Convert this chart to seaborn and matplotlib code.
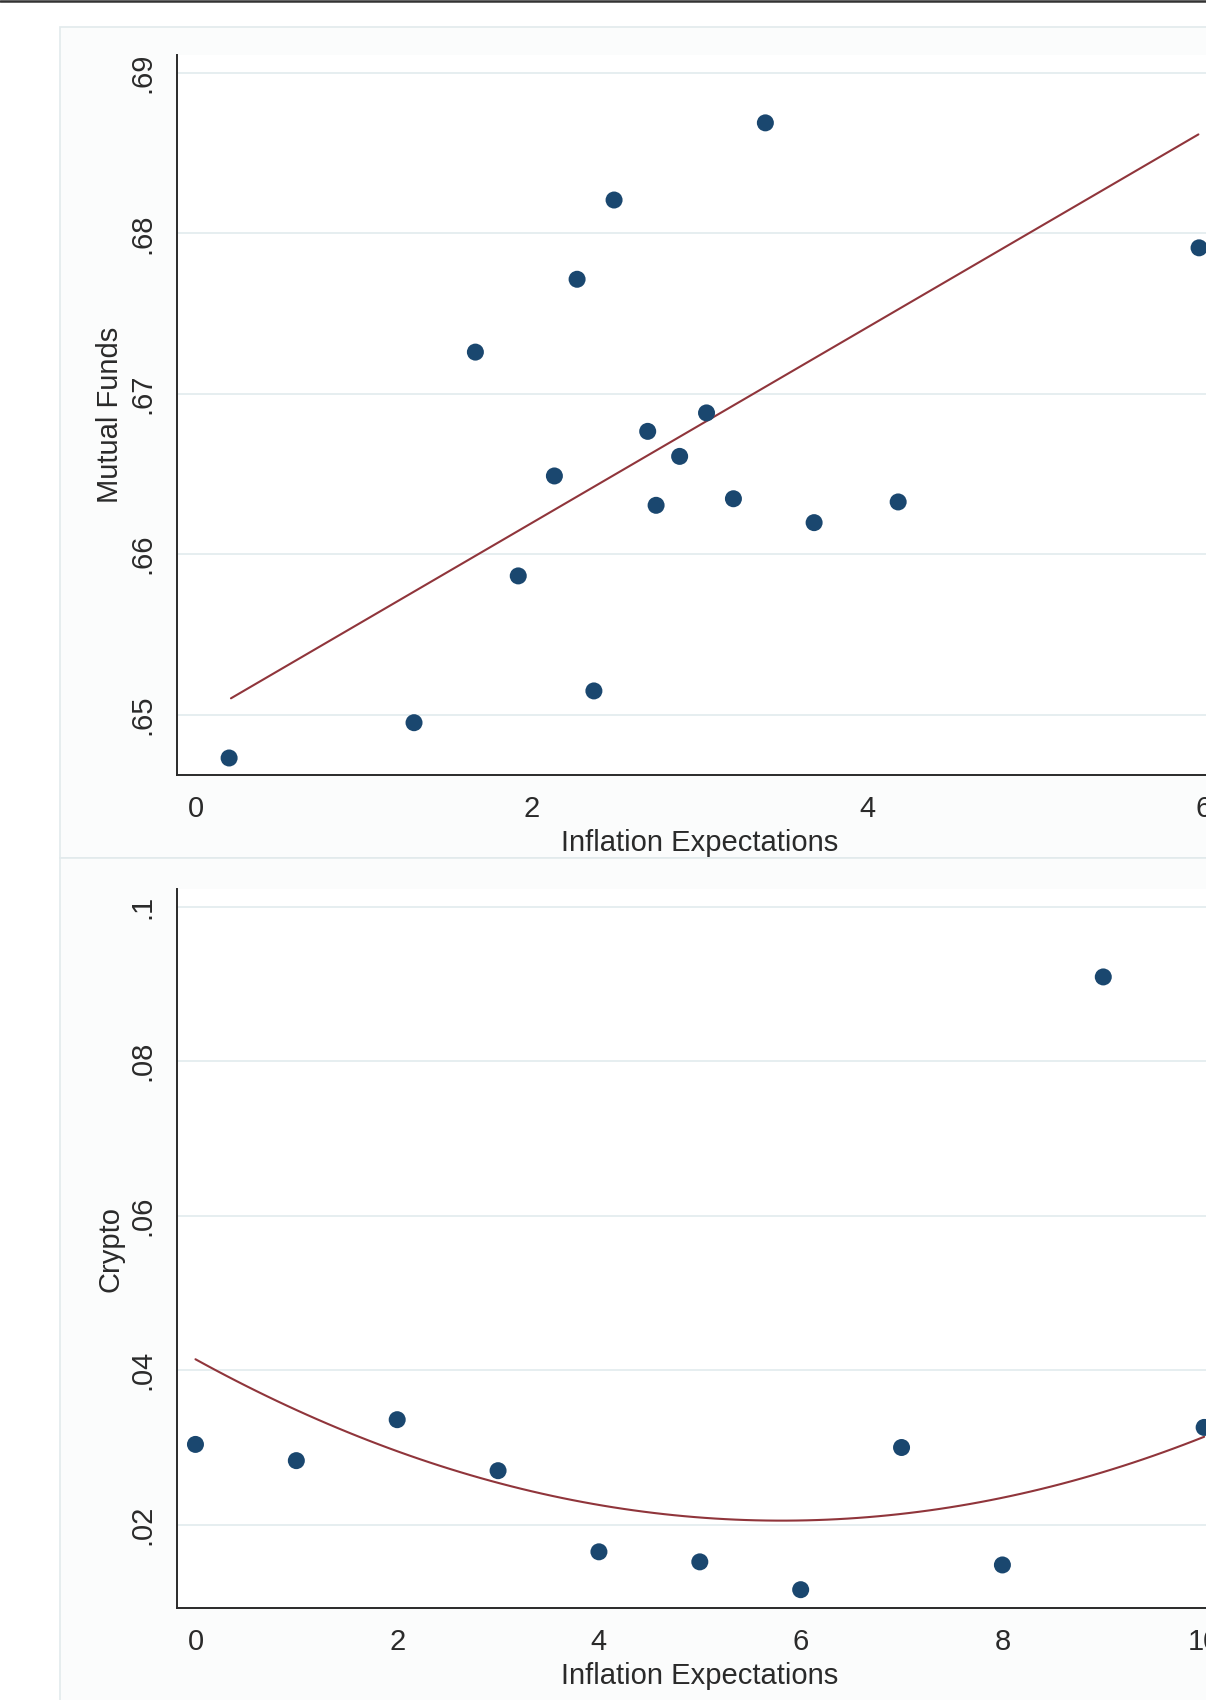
import matplotlib
matplotlib.use("Agg")
import matplotlib.pyplot as plt
from matplotlib.patches import Rectangle
from matplotlib.lines import Line2D
import seaborn as sns
import pandas as pd

# Top panel: mutual funds vs inflation expectations
mf_infl = [0.20, 1.30, 1.665, 1.92, 2.135, 2.27, 2.37, 2.49, 2.69, 2.74,
           2.88, 3.04, 3.20, 3.39, 3.68, 4.18, 5.97]
mf_share = [0.6473, 0.6495, 0.6726, 0.65865, 0.66488, 0.67714, 0.65148,
            0.68208, 0.66766, 0.66305, 0.6661, 0.66881, 0.66346, 0.68689,
            0.66197, 0.66326, 0.6791]
# fitted line
mf_fit_x = [0.211, 5.966]
mf_fit_y = [0.65102, 0.68617]
mf_xticks = [0, 2, 4, 6]
mf_yticks = [0.65, 0.66, 0.67, 0.68, 0.69]
mf_ylabels = ['.65', '.66', '.67', '.68', '.69']

# Bottom panel: crypto vs inflation expectations
cr_infl = [0, 1, 2, 3, 4, 5, 6, 7, 8, 9, 10]
cr_share = [0.0304, 0.0283, 0.0336, 0.0270, 0.0165, 0.0152, 0.0116,
            0.0300, 0.0148, 0.0909, 0.0326]
# quadratic fit curve
cr_fit_x = [0, 1, 2, 3, 4, 5, 6, 7, 8, 9, 10]
cr_fit_y = [0.0414, 0.0349, 0.0295, 0.0254, 0.0226, 0.0209, 0.0206,
            0.0214, 0.0235, 0.0268, 0.0314]
cr_xticks = [0, 2, 4, 6, 8, 10]
cr_yticks = [0.02, 0.04, 0.06, 0.08, 0.10]
cr_ylabels = ['.02', '.04', '.06', '.08', '.1']

NAVY = '#1a476f'
MAROON = '#90353b'
GRID = '#e6eef0'
INK = '#2a2a2a'

sns.set_theme(style='white')
plt.rcParams['font.family'] = ['Liberation Sans', 'DejaVu Sans']

fig = plt.figure(figsize=(12.06, 17.0), dpi=100)
fig.patch.set_facecolor('white')

# graph regions and the dark rule at the very top
fig.add_artist(Rectangle((60 / 1206, 1 - 858 / 1700), 1.0, (858 - 27) / 1700,
                         transform=fig.transFigure, facecolor='#fbfcfc',
                         edgecolor='#e2eaec', lw=1.2, zorder=-5))
fig.add_artist(Rectangle((60 / 1206, -0.01), 1.0, 1 - 858 / 1700 + 0.01,
                         transform=fig.transFigure, facecolor='#fbfcfc',
                         edgecolor='#e2eaec', lw=1.2, zorder=-5))
fig.add_artist(Line2D([0, 1], [1 - 1.2 / 1700] * 2, transform=fig.transFigure,
                      color='#333333', lw=1.8, zorder=5))

ax1 = fig.add_axes([0.14677, 0.54412, 0.867, 0.42353])
ax2 = fig.add_axes([0.14677, 0.05394, 0.867, 0.42312])


def style(ax, xlim, ylim, xticks, yticks, ylabels, ylab):
    ax.set_facecolor('white')
    ax.set_xlim(*xlim)
    ax.set_ylim(*ylim)
    ax.set_xticks(xticks)
    ax.set_xticklabels([str(t) for t in xticks])
    ax.set_yticks(yticks)
    ax.set_yticklabels(ylabels, rotation=90, va='center')
    ax.grid(axis='y', color=GRID, lw=1.4)
    ax.grid(axis='x', visible=False)
    ax.set_axisbelow(True)
    sns.despine(ax=ax)
    for s in ['left', 'bottom']:
        ax.spines[s].set_color(INK)
        ax.spines[s].set_linewidth(1.4)
    ax.tick_params(axis='both', length=10, width=1.3, color=INK,
                   labelsize=21, labelcolor=INK)
    ax.tick_params(axis='x', pad=4.5)
    ax.tick_params(axis='y', pad=5)
    ax.set_xlabel('Inflation Expectations', fontsize=21, color=INK, labelpad=4)
    ax.set_ylabel(ylab, fontsize=21, color=INK, labelpad=3)


mf = pd.DataFrame({'infl': mf_infl, 'share': mf_share})
mf_fit = pd.DataFrame({'infl': mf_fit_x, 'share': mf_fit_y})
sns.lineplot(data=mf_fit, x='infl', y='share', ax=ax1, color=MAROON, lw=1.5)
sns.scatterplot(data=mf, x='infl', y='share', ax=ax1, color=NAVY, s=150,
                edgecolor='none', zorder=3)
style(ax1, (-0.11, 6.11), (0.64624, 0.69112), mf_xticks, mf_yticks,
      mf_ylabels, 'Mutual Funds')

cr = pd.DataFrame({'infl': cr_infl, 'share': cr_share})
cr_fit = pd.DataFrame({'infl': cr_fit_x, 'share': cr_fit_y})
# smooth quadratic through the curve readings
sns.regplot(data=cr_fit, x='infl', y='share', ax=ax2, order=2, ci=None,
            scatter=False, line_kws={'color': MAROON, 'lw': 1.5})
sns.scatterplot(data=cr, x='infl', y='share', ax=ax2, color=NAVY, s=150,
                edgecolor='none', zorder=3)
style(ax2, (-0.183, 10.183), (0.00919, 0.10228), cr_xticks, cr_yticks,
      cr_ylabels, 'Crypto')

fig.savefig('out.png', dpi=100)
